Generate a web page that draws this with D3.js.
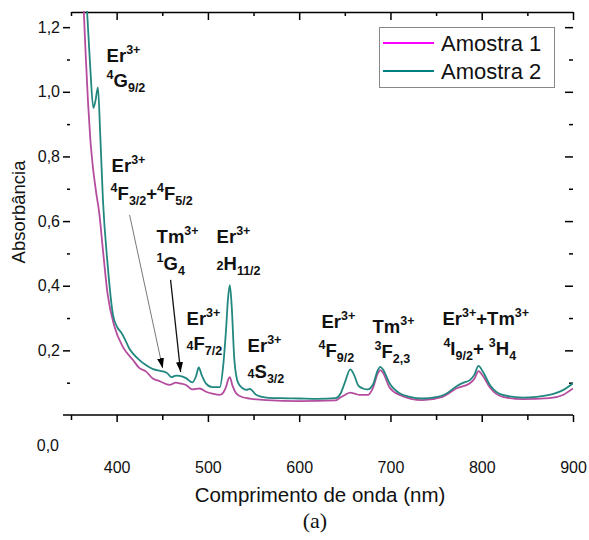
<!DOCTYPE html>
<html>
<head>
<meta charset="utf-8">
<script src="https://cdn.jsdelivr.net/npm/d3@7"></script>
<style>
  body { margin: 0; background: #fff; }
  svg { display: block; font-family: Arial, "Liberation Sans", sans-serif; }
</style>
</head>
<body>
<svg id="chart" width="589" height="540"></svg>
<script>
// Amostra 1 (magenta)
const wl1 = [360, 364, 366, 368.5, 371, 374, 377.7, 381, 385, 390, 397.7, 407, 418, 425, 432, 440, 447, 458, 465, 469, 476, 483,
  491, 498, 505, 513, 517, 520, 522, 524, 527, 531, 538, 546, 564, 600, 640, 644, 650, 656, 661, 666, 675, 681, 686, 689, 692,
  699, 710, 735, 757, 772, 787, 792, 796.5, 801, 809, 823, 845, 874, 889, 900];
const abs1 = [1.45, 1.25, 1.12, 0.975, 0.86, 0.767, 0.686, 0.624, 0.51, 0.376, 0.273, 0.21, 0.17, 0.145, 0.135, 0.112, 0.105, 0.093, 0.1, 0.098, 0.093, 0.079,
  0.082, 0.072, 0.066, 0.062, 0.07, 0.088, 0.108, 0.117, 0.09, 0.067, 0.055, 0.051, 0.046, 0.043, 0.045, 0.052, 0.062, 0.069, 0.066, 0.062, 0.062, 0.085, 0.128, 0.139, 0.13,
  0.085, 0.062, 0.046, 0.056, 0.082, 0.098, 0.112, 0.136, 0.122, 0.085, 0.056, 0.049, 0.052, 0.062, 0.082];

// Amostra 2 (teal)
const wl2 = [363, 367, 371, 374.5, 377, 379.5, 382, 385, 390, 396, 401, 405, 409, 414, 418, 425, 432, 440, 447, 452, 456, 460, 465, 469,
  476, 483, 487, 490, 493, 498, 505, 513, 517, 520, 522, 524, 526, 529, 533, 538, 542, 546, 553, 564, 580, 600, 620, 640, 645, 650,
  656, 660, 665, 670, 675, 681, 686, 689, 692, 699, 710, 720, 735, 750, 760, 772, 780, 787, 792, 796.5, 801, 809, 823, 845, 860, 874, 889, 900];
const abs2 = [1.45, 1.28, 1.08, 0.95, 0.975, 1.014, 0.87, 0.665, 0.47, 0.31, 0.27, 0.255, 0.235, 0.205, 0.19, 0.17, 0.155, 0.142, 0.137, 0.134, 0.128, 0.117, 0.122, 0.121,
  0.114, 0.101, 0.12, 0.147, 0.125, 0.097, 0.086, 0.086, 0.16, 0.27, 0.36, 0.402, 0.34, 0.17, 0.1, 0.083, 0.078, 0.081, 0.062, 0.054, 0.052, 0.051, 0.05, 0.052, 0.065, 0.1,
  0.141, 0.125, 0.09, 0.082, 0.079, 0.095, 0.138, 0.149, 0.14, 0.098, 0.067, 0.057, 0.051, 0.055, 0.064, 0.088, 0.1, 0.108, 0.125, 0.152, 0.135, 0.093, 0.062, 0.054, 0.056, 0.062, 0.077, 0.098];

const seriesNames = ["Amostra 1", "Amostra 2"];
const xMajor = [400, 500, 600, 700, 800, 900];
const yMajor = [0.2, 0.4, 0.6, 0.8, 1.0, 1.2];

// annotation texts: [text, kind] pieces, kind n = normal, sup, sub, sm = small on baseline
const annotations = [
  { x: 389, y: 1.092, parts: [["Er", "n"], ["3+", "sup"]] },
  { x: 389, y: 1.015, parts: [["4", "sup"], ["G", "n"], ["9/2", "sub"]] },
  { x: 394.5, y: 0.752, parts: [["Er", "n"], ["3+", "sup"]] },
  { x: 393.4, y: 0.665, parts: [["4", "sup"], ["F", "n"], ["3/2", "sub"], ["+", "n"], ["4", "sup"], ["F", "n"], ["5/2", "sub"]] },
  { x: 443.8, y: 0.532, parts: [["Tm", "n"], ["3+", "sup"]] },
  { x: 443.8, y: 0.448, parts: [["1", "sup"], ["G", "n"], ["4", "sub"]] },
  { x: 509.5, y: 0.532, parts: [["Er", "n"], ["3+", "sup"]] },
  { x: 509.5, y: 0.448, parts: [["2", "sm"], ["H", "n"], ["11/2", "sub"]] },
  { x: 476.6, y: 0.278, parts: [["Er", "n"], ["3+", "sup"]] },
  { x: 476.6, y: 0.201, parts: [["4", "sm"], ["F", "n"], ["7/2", "sub"]] },
  { x: 543.5, y: 0.195, parts: [["Er", "n"], ["3+", "sup"]] },
  { x: 543.5, y: 0.114, parts: [["4", "sm"], ["S", "n"], ["3/2", "sub"]] },
  { x: 624.5, y: 0.269, parts: [["Er", "n"], ["3+", "sup"]] },
  { x: 621.2, y: 0.179, parts: [["4", "sup"], ["F", "n"], ["9/2", "sub"]] },
  { x: 680.3, y: 0.254, parts: [["Tm", "n"], ["3+", "sup"]] },
  { x: 682.6, y: 0.176, parts: [["3", "sup"], ["F", "n"], ["2,3", "sub"]] },
  { x: 757, y: 0.278, parts: [["Er", "n"], ["3+", "sup"], ["+Tm", "n"], ["3+", "sup"]] },
  { x: 758, y: 0.186, parts: [["4", "sup"], ["I", "n"], ["9/2", "sub"], ["+ ", "n"], ["3", "sup"], ["H", "n"], ["4", "sub"]] }
];

const arrows = [
  { x1: 414.2, y1: 0.619, x2: 450.4, y2: 0.145, color: "#555", w: 0.8 },
  { x1: 459.1, y1: 0.418, x2: 470.1, y2: 0.133, color: "#111", w: 1.3 }
];

const svg = d3.select("#chart");
const plot = { left: 71, right: 573, top: 11, bottom: 415 };

const x = d3.scaleLinear().domain([350, 900]).range([plot.left, plot.right]);
const y = d3.scaleLinear().domain([0, 1.25]).range([plot.bottom, plot.top]);

const fmt = d3.formatLocale({ decimal: ",", thousands: ".", grouping: [3], currency: ["", ""] }).format(".1f");

const defs = svg.append("defs");
defs.append("clipPath").attr("id", "plotClip")
  .append("rect").attr("x", plot.left).attr("y", plot.top)
  .attr("width", plot.right - plot.left).attr("height", plot.bottom - plot.top);
defs.append("marker").attr("id", "head")
  .attr("viewBox", "0 0 10 10").attr("refX", 10).attr("refY", 5)
  .attr("markerWidth", 10).attr("markerHeight", 10).attr("markerUnits", "userSpaceOnUse")
  .attr("orient", "auto")
  .append("path").attr("d", "M0,1.5 L10,5 L0,8.5 Z").attr("fill", "#000");

// axes
const axisStyle = g => {
  g.selectAll("path, line").attr("stroke", "#000").attr("stroke-width", 1.5);
  g.selectAll("text").attr("fill", "#111").style("font-size", "16px").attr("font-family", null);
};

svg.append("g").attr("transform", `translate(0,${plot.top + 1})`)
  .call(d3.axisTop(x).tickValues(d3.range(400, 901, 100)).tickSize(-8).tickSizeOuter(0).tickFormat(""))
  .call(axisStyle);
svg.append("g").attr("transform", `translate(0,${plot.top + 1})`)
  .call(d3.axisTop(x).tickValues(d3.range(350, 901, 100)).tickSize(-4).tickSizeOuter(0).tickFormat(""))
  .call(axisStyle).call(g => g.select(".domain").remove());

// bottom axis
svg.append("line").attr("x1", 63).attr("x2", plot.right).attr("y1", plot.bottom).attr("y2", plot.bottom)
  .attr("stroke", "#000").attr("stroke-width", 1.5);
svg.append("g").attr("transform", `translate(0,${plot.bottom})`)
  .call(d3.axisBottom(x).tickValues(xMajor).tickSize(7).tickPadding(40).tickFormat(d3.format("d")))
  .call(axisStyle).call(g => g.select(".domain").remove());
svg.append("g").attr("transform", `translate(0,${plot.bottom})`)
  .call(d3.axisBottom(x).tickValues(d3.range(350, 901, 100)).tickSize(5).tickFormat(""))
  .call(axisStyle).call(g => g.select(".domain").remove());

// left axis
svg.append("g").attr("transform", `translate(70,0)`)
  .call(d3.axisLeft(y).tickValues(yMajor).tickSize(7).tickPadding(3).tickFormat(fmt))
  .call(axisStyle).call(g => g.select(".domain").remove());
svg.append("g").attr("transform", `translate(70,0)`)
  .call(d3.axisLeft(y).tickValues(d3.range(0.1, 1.2, 0.2)).tickSize(3).tickFormat(""))
  .call(axisStyle).call(g => g.select(".domain").remove());
svg.append("text").attr("x", 59).attr("y", plot.bottom + 36).attr("text-anchor", "end")
  .style("font-size", "16px").attr("fill", "#111").text(fmt(0));

// right axis
svg.append("g").attr("transform", `translate(${plot.right},0)`)
  .call(d3.axisRight(y).tickValues(yMajor).tickSize(-8).tickFormat(""))
  .call(axisStyle).call(g => g.select(".domain").remove());
svg.append("g").attr("transform", `translate(${plot.right},0)`)
  .call(d3.axisRight(y).tickValues(d3.range(0.1, 1.2, 0.2)).tickSize(-4).tickFormat(""))
  .call(axisStyle).call(g => g.select(".domain").remove());

// axis titles
svg.append("text").attr("x", 320).attr("y", 502).attr("text-anchor", "middle")
  .style("font-size", "20.5px").attr("fill", "#111").text("Comprimento de onda (nm)");
svg.append("text").attr("transform", "translate(25,212) rotate(-90)").attr("text-anchor", "middle")
  .style("font-size", "18.5px").attr("fill", "#111").text("Absorbância");
svg.append("text").attr("x", 315).attr("y", 528).attr("text-anchor", "middle")
  .attr("font-family", "'Liberation Serif', 'DejaVu Serif', serif").style("font-size", "22px").attr("fill", "#111").text("(a)");

// curves
const line = d3.line().x(d => x(d[0])).y(d => y(d[1])).curve(d3.curveMonotoneX);
const curves = [
  { pts: d3.zip(wl1, abs1), color: "#b54d9f" },
  { pts: d3.zip(wl2, abs2), color: "#22877f" }
];
svg.append("g").attr("clip-path", "url(#plotClip)")
  .selectAll("path").data(curves).join("path")
  .attr("d", d => line(d.pts))
  .attr("fill", "none").attr("stroke", d => d.color).attr("stroke-width", 1.8);

// arrows
svg.append("g").selectAll("line").data(arrows).join("line")
  .attr("x1", d => x(d.x1)).attr("y1", d => y(d.y1))
  .attr("x2", d => x(d.x2)).attr("y2", d => y(d.y2))
  .attr("stroke", d => d.color).attr("stroke-width", d => d.w)
  .attr("marker-end", "url(#head)");

// annotations
const shift = { n: 0, sup: -8, sub: 5, sm: 0 };
const size = { n: "18.5px", sup: "12.5px", sub: "12.5px", sm: "12.5px" };
const annoG = svg.append("g").attr("font-weight", "bold").attr("fill", "#111");
annotations.forEach(a => {
  const t = annoG.append("text").attr("x", x(a.x)).attr("y", y(a.y)).style("font-size", "18.5px");
  let cur = 0;
  a.parts.forEach(([txt, kind]) => {
    t.append("tspan").attr("dy", shift[kind] - cur).style("font-size", size[kind]).text(txt);
    cur = shift[kind];
  });
});

// legend
const legend = svg.append("g");
legend.append("rect").attr("x", 379.5).attr("y", 27.5).attr("width", 175).attr("height", 60)
  .attr("fill", "#fff").attr("stroke", "#888").attr("stroke-width", 1);
const legendColors = ["#ff00ff", "#008080"];
seriesNames.forEach((name, i) => {
  const ly = 43 + i * 28;
  legend.append("line").attr("x1", 383).attr("x2", 434).attr("y1", ly).attr("y2", ly)
    .attr("stroke", legendColors[i]).attr("stroke-width", 2);
  legend.append("text").attr("x", 441).attr("y", ly + 7.5).style("font-size", "22px").attr("fill", "#111").text(name);
});
</script>
</body>
</html>
